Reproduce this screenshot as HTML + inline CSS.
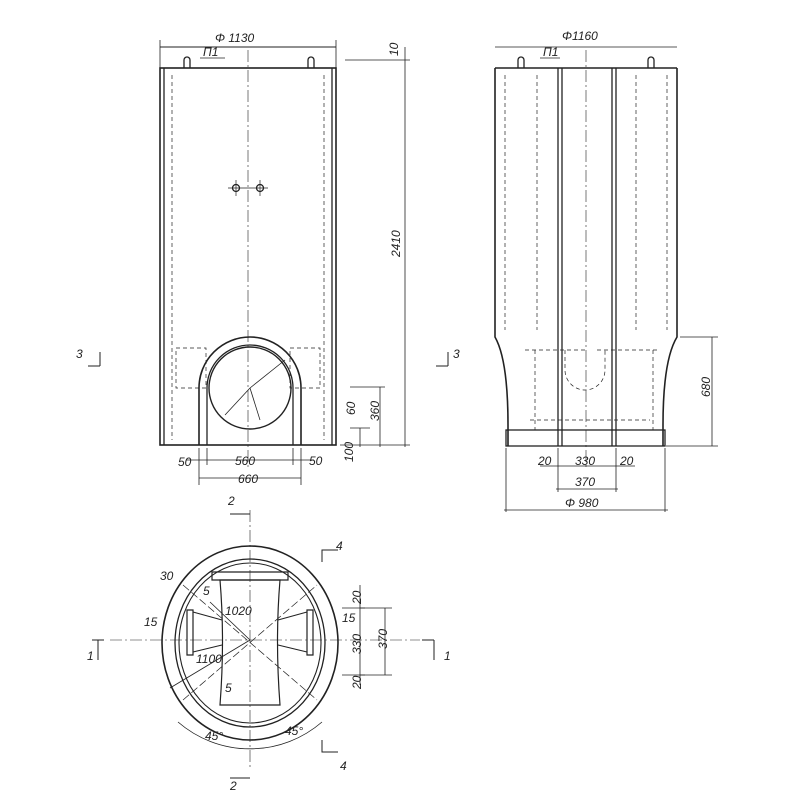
<!DOCTYPE html>
<html><head><meta charset="utf-8"><style>
html,body{margin:0;padding:0;background:#fff;}
svg{display:block}
text{font-family:"Liberation Sans",sans-serif;font-style:italic;fill:#222;font-size:12px}
</style></head><body>
<svg width="800" height="800" viewBox="0 0 800 800" xmlns="http://www.w3.org/2000/svg">
<g stroke="#222" fill="none" stroke-width="1.3">
<!-- LEFT VIEW -->
<rect x="160" y="68" width="176" height="377" stroke-width="1.6"/>
<line x1="164" y1="68" x2="164" y2="445"/><line x1="332" y1="68" x2="332" y2="445"/>
<line x1="160" y1="47" x2="336" y2="47" stroke-width="1"/>
<line x1="160" y1="40" x2="160" y2="68" stroke-width="0.8"/><line x1="336" y1="40" x2="336" y2="68" stroke-width="0.8"/>
<line x1="248" y1="50" x2="248" y2="470" stroke-width="0.6" stroke-dasharray="12 3 2 3"/>
<path d="M184 68 v-8 a3 3 0 0 1 6 0 v8 M308 68 v-8 a3 3 0 0 1 6 0 v8"/>
<line x1="200" y1="58" x2="225" y2="58" stroke-width="0.8"/>
<circle cx="236" cy="188" r="3.5"/><circle cx="260" cy="188" r="3.5"/>
<line x1="228" y1="188" x2="268" y2="188" stroke-width="0.7"/>
<line x1="236" y1="180" x2="236" y2="196" stroke-width="0.7"/><line x1="260" y1="180" x2="260" y2="196" stroke-width="0.7"/>
<g stroke-width="0.7" stroke-dasharray="4 3">
<line x1="172" y1="75" x2="172" y2="440"/><line x1="324" y1="75" x2="324" y2="440"/>
<path d="M176 348 h30 v40 h-30 z M290 348 h30 v40 h-30 z"/>
</g>
<!-- arch -->
<path d="M199 445 V388 A51 51 0 0 1 301 388 V445" stroke-width="1.6"/>
<path d="M207 445 V388 A43 43 0 0 1 293 388 V445" stroke-width="1.3"/>
<circle cx="250" cy="388" r="41" stroke-width="1.4"/>
<line x1="250" y1="388" x2="285" y2="360" stroke-width="0.8"/>
<line x1="250" y1="388" x2="225" y2="415" stroke-width="0.8"/>
<line x1="250" y1="388" x2="260" y2="420" stroke-width="0.8"/>
<!-- left dims -->
<line x1="186" y1="460" x2="314" y2="460" stroke-width="0.8"/>
<line x1="199" y1="478" x2="301" y2="478" stroke-width="0.8"/>
<line x1="199" y1="448" x2="199" y2="485" stroke-width="0.8"/><line x1="301" y1="448" x2="301" y2="485" stroke-width="0.8"/>
<line x1="207" y1="448" x2="207" y2="465" stroke-width="0.8"/><line x1="293" y1="448" x2="293" y2="465" stroke-width="0.8"/>
<line x1="345" y1="60" x2="410" y2="60" stroke-width="0.7"/>
<line x1="405" y1="47" x2="405" y2="447" stroke-width="0.8"/>
<line x1="340" y1="445" x2="410" y2="445" stroke-width="0.7"/>
<line x1="350" y1="387" x2="385" y2="387" stroke-width="0.7"/>
<line x1="380" y1="387" x2="380" y2="447" stroke-width="0.8"/>
<line x1="360" y1="428" x2="360" y2="447" stroke-width="0.8"/>
<line x1="350" y1="428" x2="370" y2="428" stroke-width="0.7"/>
<path d="M88 366 h12 M100 352 v14" stroke-width="1"/>
<!-- RIGHT VIEW -->
<path d="M495 68 V337 Q508 360 508 425 V446 M677 68 V337 Q663 360 663 425 V446" stroke-width="1.6"/>
<line x1="495" y1="68" x2="677" y2="68" stroke-width="1.6"/>
<rect x="506" y="430" width="159" height="16" stroke-width="1.3"/>
<line x1="558" y1="68" x2="558" y2="446"/><line x1="562" y1="68" x2="562" y2="446"/>
<line x1="612" y1="68" x2="612" y2="446"/><line x1="616" y1="68" x2="616" y2="446"/>
<line x1="586" y1="50" x2="586" y2="470" stroke-width="0.6" stroke-dasharray="12 3 2 3"/>
<path d="M518 68 v-8 a3 3 0 0 1 6 0 v8 M648 68 v-8 a3 3 0 0 1 6 0 v8"/>
<line x1="495" y1="47" x2="677" y2="47" stroke-width="0.8"/>
<line x1="540" y1="58" x2="560" y2="58" stroke-width="0.8"/>
<g stroke-width="0.7" stroke-dasharray="4 3">
<line x1="505" y1="75" x2="505" y2="330"/><line x1="667" y1="75" x2="667" y2="330"/>
<line x1="537" y1="75" x2="537" y2="330"/><line x1="636" y1="75" x2="636" y2="330"/>
<path d="M525 350 h60 M597 350 h62 M535 350 v80 M653 350 v80"/>
<path d="M565 350 v20 a20 20 0 0 0 40 0 v-20"/>
<line x1="530" y1="420" x2="650" y2="420"/>
</g>
<line x1="680" y1="337" x2="718" y2="337" stroke-width="0.7"/>
<line x1="712" y1="337" x2="712" y2="446" stroke-width="0.8"/>
<line x1="666" y1="446" x2="718" y2="446" stroke-width="0.7"/>
<line x1="506" y1="448" x2="506" y2="512" stroke-width="0.8"/><line x1="665" y1="448" x2="665" y2="512" stroke-width="0.8"/>
<line x1="558" y1="448" x2="558" y2="492" stroke-width="0.8"/><line x1="616" y1="448" x2="616" y2="492" stroke-width="0.8"/>
<line x1="540" y1="466" x2="635" y2="466" stroke-width="0.8"/>
<line x1="556" y1="489" x2="618" y2="489" stroke-width="0.8"/>
<line x1="504" y1="510" x2="668" y2="510" stroke-width="0.8"/>
<path d="M436 366 h12 M448 352 v14" stroke-width="1"/>
<!-- BOTTOM SECTION -->
<ellipse cx="250" cy="643" rx="88" ry="97" stroke-width="1.6"/>
<ellipse cx="250" cy="643" rx="75" ry="84" stroke-width="1.3"/>
<ellipse cx="250" cy="643" rx="71" ry="80" stroke-width="1.1"/>
<path d="M212 580 h76 v-8 h-76 z" stroke-width="1.2"/>
<path d="M220 580 h60 Q275 640 280 705 H220 Q225 640 220 580 z" stroke-width="1.2"/>
<path d="M187 610 v45 h6 v-45 z M307 610 v45 h6 v-45 z" stroke-width="1.2"/>
<path d="M193 612 L222 620 M193 652 L222 645 M307 612 L278 620 M307 652 L278 645" stroke-width="1"/>
<line x1="250" y1="510" x2="250" y2="770" stroke-width="0.6" stroke-dasharray="12 3 2 3"/>
<line x1="110" y1="640" x2="420" y2="640" stroke-width="0.6" stroke-dasharray="12 3 2 3"/>
<line x1="183" y1="585" x2="317" y2="700" stroke-width="0.7" stroke-dasharray="8 3"/>
<line x1="183" y1="700" x2="317" y2="585" stroke-width="0.7" stroke-dasharray="8 3"/>
<line x1="170" y1="688" x2="250" y2="640" stroke-width="0.8"/>
<line x1="210" y1="602" x2="250" y2="640" stroke-width="0.8"/>
<path d="M178 722 A110 110 0 0 0 322 722" stroke-width="0.8"/>
<path d="M230 514 h20 M230 778 h20" stroke-width="1"/>
<path d="M322 562 v-12 h16 M322 740 v12 h16" stroke-width="1"/>
<path d="M92 640 h12 M98 640 v20 M422 640 h12 M434 640 v20" stroke-width="1"/>
<line x1="342" y1="608" x2="365" y2="608" stroke-width="0.7"/>
<line x1="342" y1="675" x2="365" y2="675" stroke-width="0.7"/>
<line x1="360" y1="585" x2="360" y2="685" stroke-width="0.8"/>
<line x1="385" y1="608" x2="385" y2="675" stroke-width="0.8"/>
<line x1="360" y1="608" x2="392" y2="608" stroke-width="0.7"/>
<line x1="360" y1="675" x2="392" y2="675" stroke-width="0.7"/>
</g>
<text x="215" y="42">Φ 1130</text>
<text x="203" y="56" font-size="10">Π1</text>
<text x="384" y="58" transform="rotate(-90 390 50)">10</text>
<text x="388" y="255" transform="rotate(-90 395 250)">2410</text>
<text x="178" y="466" font-size="11">50</text>
<text x="235" y="465" font-size="11">560</text>
<text x="309" y="465" font-size="11">50</text>
<text x="238" y="483" font-size="11">660</text>
<text x="368" y="420" font-size="11" transform="rotate(-90 374 415)">360</text>
<text x="345" y="415" font-size="10" transform="rotate(-90 350 410)">60</text>
<text x="343" y="458" font-size="10" transform="rotate(-90 350 455)">100</text>
<text x="76" y="358" font-size="12">3</text>
<text x="453" y="358" font-size="12">3</text>
<text x="562" y="40">Φ1160</text>
<text x="543" y="56" font-size="10">Π1</text>
<text x="538" y="465" font-size="11">20</text>
<text x="575" y="465" font-size="11">330</text>
<text x="620" y="465" font-size="11">20</text>
<text x="575" y="486" font-size="11">370</text>
<text x="565" y="507" font-size="11">Φ 980</text>
<text x="698" y="395" font-size="12" transform="rotate(-90 705 390)">680</text>
<text x="228" y="505">2</text>
<text x="230" y="790">2</text>
<text x="336" y="550">4</text>
<text x="340" y="770">4</text>
<text x="87" y="660">1</text>
<text x="444" y="660">1</text>
<text x="160" y="580" font-size="11">30</text>
<text x="144" y="626" font-size="10">15</text>
<text x="225" y="692" font-size="11">5</text>
<text x="203" y="595" font-size="10">5</text>
<text x="225" y="615" font-size="9">1020</text>
<text x="196" y="663" font-size="9">1100</text>
<text x="205" y="740" font-size="11">45°</text>
<text x="285" y="735" font-size="11">45°</text>
<text x="348" y="605" font-size="10" transform="rotate(-90 354 598)">20</text>
<text x="348" y="655" font-size="10" transform="rotate(-90 354 648)">330</text>
<text x="348" y="690" font-size="10" transform="rotate(-90 354 683)">20</text>
<text x="374" y="650" font-size="11" transform="rotate(-90 380 643)">370</text>
<text x="342" y="622" font-size="9">15</text>
</svg>
</body></html>
